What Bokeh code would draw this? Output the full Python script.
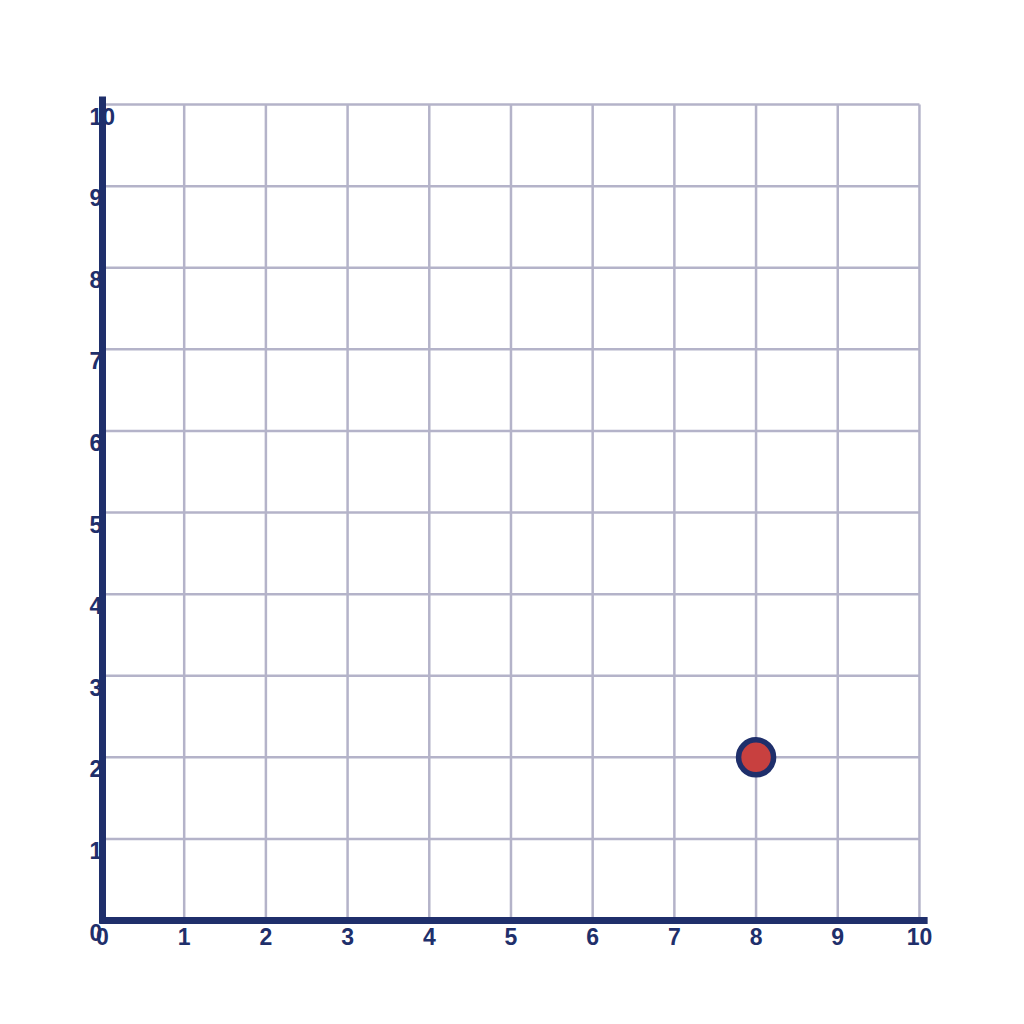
from bokeh.plotting import figure
from bokeh.models import Range1d
from bokeh.core.properties import value
from bokeh.embed import file_html
from bokeh.resources import INLINE

x_ticks = [0, 1, 2, 3, 4, 5, 6, 7, 8, 9, 10]
y_ticks = [0, 1, 2, 3, 4, 5, 6, 7, 8, 9, 10]
x_labels = [str(t) for t in x_ticks]
y_labels = [str(t) for t in y_ticks]
point_x = [8]
point_y = [2]

NAVY = "#1f2f6b"
GRID = "#b4b3c9"
RED = "#c8403f"

p = figure(width=1008, height=1008, output_backend="svg", toolbar_location=None,
           x_range=Range1d(-1.2485, 11.09), y_range=Range1d(-1.078, 11.275),
           min_border=0, outline_line_color=None)
p.xaxis.visible = False
p.yaxis.visible = False
p.grid.visible = False
p.background_fill_color = "white"
p.border_fill_color = "white"

xmin, xmax = x_ticks[0], x_ticks[-1]
ymin, ymax = y_ticks[0], y_ticks[-1]

# grid lines
vx = x_ticks[1:]
p.segment(x0=vx, y0=[ymin]*len(vx), x1=vx, y1=[ymax]*len(vx), line_color=GRID, line_width=2.5)
hy = y_ticks[1:]
p.segment(x0=[xmin]*len(hy), y0=hy, x1=[xmax]*len(hy), y1=hy, line_color=GRID, line_width=2.5)

# axis lines
p.segment(x0=[xmin - 0.03], y0=[ymin], x1=[xmax + 0.1], y1=[ymin], line_color=NAVY, line_width=7)
p.segment(x0=[xmin], y0=[ymin - 0.04], x1=[xmin], y1=[ymax + 0.1], line_color=NAVY, line_width=7)

# tick labels
p.text(x=x_ticks, y=[ymin]*len(x_ticks), text=x_labels, text_align="center", text_baseline="top",
       y_offset=7, text_font=value("Liberation Sans"), text_font_style="bold",
       text_font_size="23px", text_color=NAVY)
p.text(x=[xmin]*len(y_ticks), y=y_ticks, text=y_labels, text_align="left", text_baseline="top",
       x_offset=-13, y_offset=3, text_font=value("Liberation Sans"), text_font_style="bold",
       text_font_size="23px", text_color=NAVY)

# point
p.scatter(x=point_x, y=point_y, size=35, fill_color=RED, line_color=NAVY, line_width=5.5)

open("out.html", "w").write(file_html(p, INLINE))
